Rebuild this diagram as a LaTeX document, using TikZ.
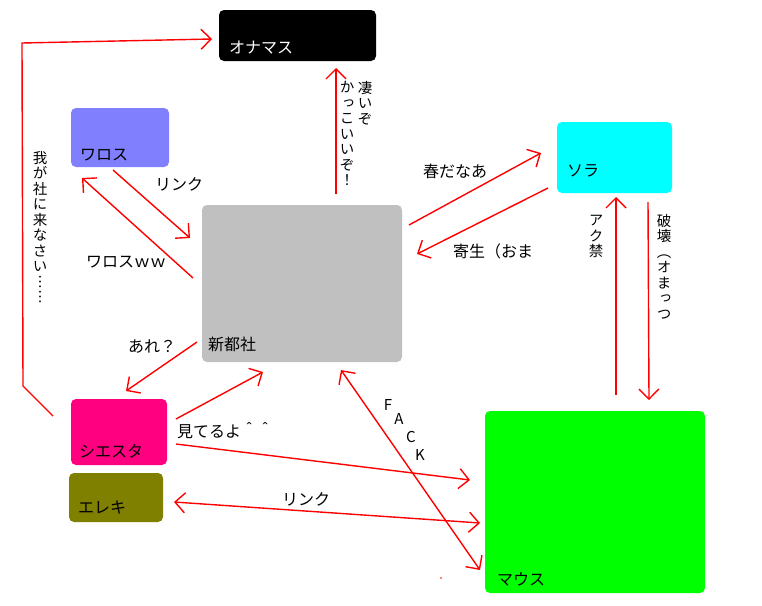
\documentclass[tikz,border=0pt]{standalone}
\usepackage{fontspec}
\setmainfont{Noto Sans CJK JP}
\newfontfamily\vjp[RawFeature=+vert]{Noto Sans CJK JP}
\usetikzlibrary{arrows.meta}
\definecolor{wred}{RGB}{255,0,0}
\definecolor{cblue}{RGB}{128,128,255}
\definecolor{cgray}{RGB}{192,192,192}
\definecolor{ccyan}{RGB}{0,255,255}
\definecolor{cmag}{RGB}{255,0,128}
\definecolor{colive}{RGB}{128,128,0}
\definecolor{cgreen}{RGB}{0,255,0}
\begin{document}
\begin{tikzpicture}[x=1pt,y=-1pt,
  box/.style={rounded corners=5pt, anchor=north west, inner sep=0pt, outer sep=0pt},
  lbl/.style={font=\fontsize{16}{16}\selectfont, inner sep=0pt, anchor=base west},
  vlbl/.style={font=\vjp\fontsize{14.5}{15.5}\selectfont, align=center, inner sep=0pt, anchor=north},
  tipb/.tip={Straight Barb[length=10pt,width=20pt]},
  conn/.style={draw=wred, line width=1.4pt, -tipb},
  conntwo/.style={draw=wred, line width=1.4pt, tipb-tipb},
  letter/.style={font=\fontsize{15}{15}\selectfont, inner sep=0pt, anchor=base}]
\useasboundingbox[fill=white] (0,0) rectangle (762,605);

% boxes
\node[box, fill=black,  minimum width=157pt, minimum height=51pt]  (onamasu) at (219,10) {};
\node[box, fill=cblue,  minimum width=98pt,  minimum height=59pt]  (waros)   at (71,108) {};
\node[box, fill=cgray,  minimum width=200pt, minimum height=157pt] (shinto)  at (202,205) {};
\node[box, fill=ccyan,  minimum width=115pt, minimum height=71pt]  (sora)    at (557,122) {};
\node[box, fill=cmag,   minimum width=96pt,  minimum height=66pt]  (siesta)  at (71,399) {};
\node[box, fill=colive, minimum width=94pt,  minimum height=49pt]  (ereki)   at (69,473) {};
\node[box, fill=cgreen, minimum width=220pt, minimum height=182pt] (mouse)   at (485,411) {};

% box labels
\node[lbl, text=white] (onamasu-l) at (229,53) {オナマス};
\node[lbl] (waros-l)  at (80,160)  {ワロス};
\node[lbl] (shinto-l) at (208,350) {新都社};
\node[lbl] (sora-l)   at (567,176) {ソラ};
\node[lbl] (siesta-l) at (79,457)  {シエスタ};
\node[lbl] (ereki-l)  at (78,513)  {エレキ};
\node[lbl] (mouse-l)  at (497,585) {マウス};

% connector end points
\coordinate (wg-a) at (53,416);
\coordinate (wg-b) at (23,386);
\coordinate (wg-c) at (22,43);
\coordinate (wg-d) at (212,39);
\coordinate (sg-a) at (336,194);
\coordinate (sg-b) at (336,68);
\coordinate (lk1-a) at (113,170);
\coordinate (lk1-b) at (190,238);
\coordinate (ww-a) at (193,278);
\coordinate (ww-b) at (82,178);
\coordinate (ar-a) at (197,342);
\coordinate (ar-b) at (126,391);
\coordinate (ms-a) at (176,419);
\coordinate (ms-b) at (263,372);
\coordinate (fk-a) at (341,370);
\coordinate (fk-b) at (480,570);
\coordinate (mr-a) at (176,444);
\coordinate (mr-b) at (470,480);
\coordinate (lk2-a) at (174,502);
\coordinate (lk2-b) at (480,523);
\coordinate (hr-a) at (409,225);
\coordinate (hr-b) at (541,153);
\coordinate (ks-a) at (548,188);
\coordinate (ks-b) at (417,254);
\coordinate (ak-a) at (616,395);
\coordinate (ak-b) at (616,197);
\coordinate (hk-a) at (648,202);
\coordinate (hk-b) at (649,400);

% connectors
\draw[conn] (wg-a) -- (wg-b) -- (wg-c) -- (wg-d);
\draw[conn] (sg-a) -- (sg-b);
\draw[conn] (lk1-a) -- (lk1-b);
\draw[conn] (ww-a) -- (ww-b);
\draw[conn] (ar-a) -- (ar-b);
\draw[conn] (ms-a) -- (ms-b);
\draw[conntwo] (fk-a) -- (fk-b);
\draw[conn] (mr-a) -- (mr-b);
\draw[conntwo] (lk2-a) -- (lk2-b);
\draw[conn] (hr-a) -- (hr-b);
\draw[conn] (ks-a) -- (ks-b);
\draw[conn] (ak-a) -- (ak-b);
\draw[conn] (hk-a) -- (hk-b);
\fill[wred] (441,578) circle (0.8pt);

% connector labels
\node[lbl] (t-link1) at (155,190) {リンク};
\node[lbl] (t-ww)    at (86,267)  {ワロスｗｗ};
\node[lbl] (t-are)   at (128,352) {あれ？};
\node[lbl] (t-miteru) at (177,437) {見てるよ＾＾};
\node[lbl] (t-link2) at (282,505) {リンク};
\node[lbl] (t-haru)  at (423,177) {春だなあ};
\node[lbl] (t-kisei) at (453,257) {寄生（おま};
\node[letter] (t-f) at (388,410) {F};
\node[letter] (t-a) at (399,424) {A};
\node[letter] (t-c) at (411,442) {C};
\node[letter] (t-k) at (420,460) {K};
\node[vlbl] (t-wagasha) at (40,151) {我\\が\\社\\に\\来\\な\\さ\\い\\︙\\︙};
\node[vlbl] (t-sugoi)   at (365,81) {凄\\い\\ぞ};
\node[vlbl] (t-kakko)   at (347,81) {か\\っ\\こ\\い\\い\\ぞ\\！};
\node[vlbl] (t-akukin)  at (596,215) {ア\\ク\\禁};
\node[vlbl] (t-hakai)   at (664,214) {破\\壊\\（\\オ\\ま\\っ\\つ};
\end{tikzpicture}
\end{document}
